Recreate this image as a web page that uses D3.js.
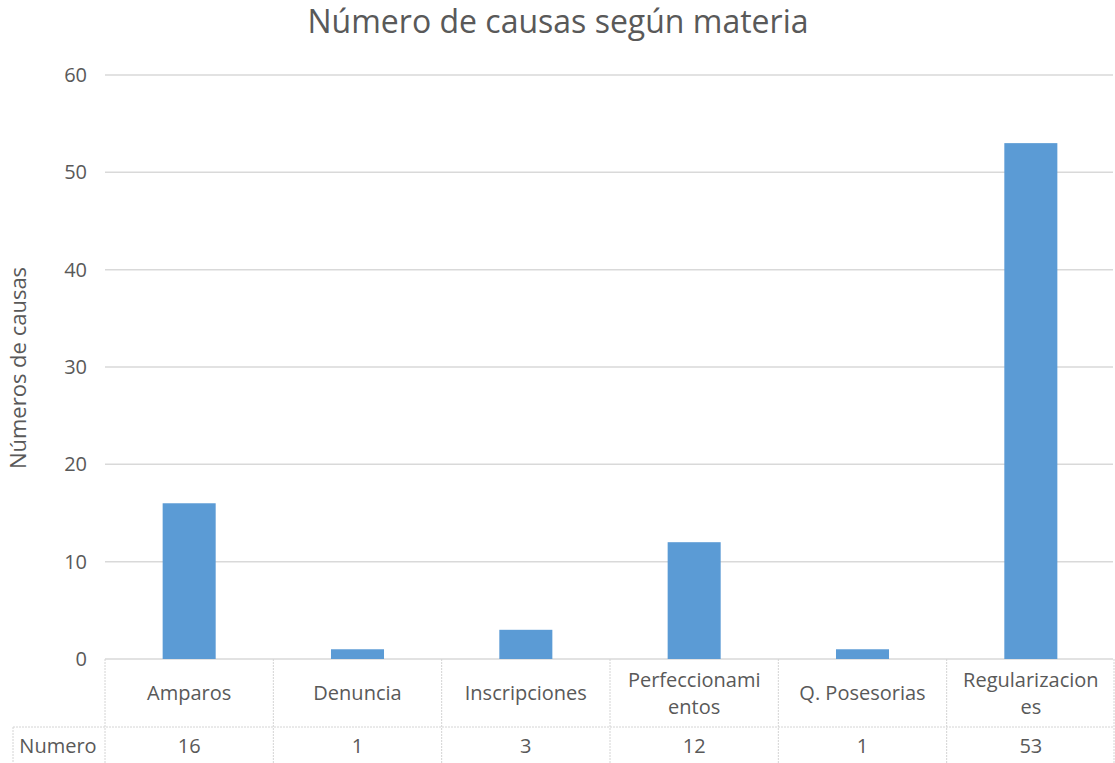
<!DOCTYPE html>
<head>
  <style>
    body { margin: 0; background: #ffffff; }
    svg text { font-family: "Open Sans", sans-serif; fill: #595959; }
  </style>
  <script src="https://d3js.org/d3.v7.min.js"></script>
</head>
<body>
<div class="home"></div>
<script>
    // data
    const categories = ["Amparos", "Denuncia", "Inscripciones", "Perfeccionamientos", "Q. Posesorias", "Regularizaciones"];
    const values = [16, 1, 3, 12, 1, 53];
    const seriesName = "Numero";
    const yTicks = [0, 10, 20, 30, 40, 50, 60];

    const width = 1115, height = 763;
    const margin = {top: 75, left: 105, right: 0, bottom: 104};

    const svg = d3.select(".home").append("svg")
        .attr("width", width)
        .attr("height", height);

    const x = d3.scaleBand()
        .domain(categories)
        .range([margin.left, width - margin.right])
        .paddingInner(0).paddingOuter(0);

    const y = d3.scaleLinear()
        .domain([0, 60])
        .range([height - margin.bottom, margin.top]);

    // title
    svg.append("text")
        .attr("x", 558)
        .attr("y", 33)
        .attr("text-anchor", "middle")
        .style("font-size", "32px")
        .text("Número de causas según materia");

    // y axis title
    svg.append("text")
        .attr("transform", "translate(26," + 368 + ") rotate(-90)")
        .attr("text-anchor", "middle")
        .style("font-size", "22px")
        .text("Números de causas");

    //gridlines
    svg.append("g").selectAll("line")
        .data(yTicks)
        .enter().append("line")
        .attr("x1", margin.left).attr("x2", width - 2)
        .attr("y1", d => y(d)).attr("y2", d => y(d))
        .attr("stroke", "#d9d9d9")
        .attr("stroke-width", 1.5);

    // tick labels
    svg.append("g").selectAll("text")
        .data(yTicks)
        .enter().append("text")
        .attr("x", 87)
        .attr("y", d => y(d))
        .attr("dy", "0.35em")
        .attr("text-anchor", "end")
        .style("font-size", "20px")
        .text(d => d);

    // bars
    const barW = x.bandwidth() * 0.315;
    svg.append("g").selectAll("rect")
        .data(values)
        .enter().append("rect")
        .attr("x", (d, i) => x(categories[i]) + x.bandwidth() / 2 - barW / 2)
        .attr("y", d => y(d))
        .attr("width", barW)
        .attr("height", d => y(0) - y(d))
        .attr("fill", "#5b9bd5");

    // data table
    const row1Top = y(0), row2Top = 727, tableBottom = height;
    const table = svg.append("g");
    const borderColor = "#d4d4d4";

    // vertical cell borders
    const edges = categories.map(c => x(c)).concat([width - 1]);
    table.selectAll("line.v")
        .data(edges)
        .enter().append("line")
        .attr("class", "v")
        .attr("x1", d => d).attr("x2", d => d)
        .attr("y1", row1Top).attr("y2", tableBottom)
        .attr("stroke", borderColor)
        .attr("stroke-dasharray", "2,1");

    table.append("line")
        .attr("x1", 13).attr("x2", width - 1)
        .attr("y1", row2Top).attr("y2", row2Top)
        .attr("stroke", borderColor).attr("stroke-dasharray", "2,1");
    table.append("line")
        .attr("x1", 13).attr("x2", 13)
        .attr("y1", row2Top).attr("y2", tableBottom)
        .attr("stroke", borderColor).attr("stroke-dasharray", "2,1");

    // category labels, wrapped by character like Excel does
    const catText = table.selectAll("text.cat")
        .data(categories)
        .enter().append("text")
        .attr("class", "cat")
        .attr("text-anchor", "middle")
        .style("font-size", "20px");

    catText.each(function (d) {
        const t = d3.select(this);
        const maxW = x.bandwidth() - 28;
        let lines = [], cur = "";
        for (const ch of d) {
            t.text(cur + ch);
            if (this.getComputedTextLength() > maxW && cur.length) {
                lines.push(cur);
                cur = ch;
            } else cur += ch;
        }
        lines.push(cur);
        t.text(null);
        const cx = x(d) + x.bandwidth() / 2;
        const mid = (row1Top + row2Top) / 2;
        const lh = 27;
        lines.forEach((ln, i) => {
            t.append("tspan")
                .attr("x", cx)
                .attr("y", mid + (i - (lines.length - 1) / 2) * lh)
                .attr("dy", "0.35em")
                .text(ln);
        });
    });

    // value row
    table.append("text")
        .attr("x", 58)
        .attr("y", (row2Top + tableBottom) / 2 + 1)
        .attr("dy", "0.35em")
        .attr("text-anchor", "middle")
        .style("font-size", "20px")
        .text(seriesName);

    table.selectAll("text.val")
        .data(values)
        .enter().append("text")
        .attr("class", "val")
        .attr("x", (d, i) => x(categories[i]) + x.bandwidth() / 2)
        .attr("y", (row2Top + tableBottom) / 2 + 1)
        .attr("dy", "0.35em")
        .attr("text-anchor", "middle")
        .style("font-size", "20px")
        .text(d => d);
</script>
</body>
